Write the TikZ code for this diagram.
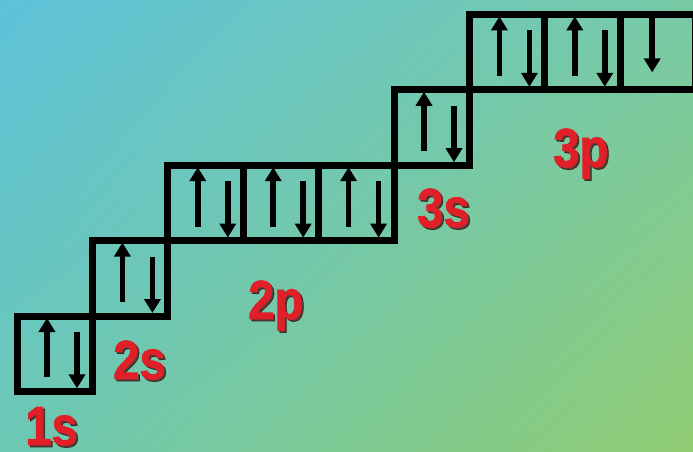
\documentclass[tikz,border=0pt]{standalone}
\usepackage{fontspec}
\setmainfont{Liberation Sans}
\newfontfamily\lblfont{Liberation Sans Bold}[FakeBold=1.5]
\usetikzlibrary{arrows.meta,shadings}
\definecolor{bgTL}{HTML}{5EC3DA}
\definecolor{bgTR}{HTML}{78CAA6}
\definecolor{bgBL}{HTML}{6CC8B4}
\definecolor{bgBR}{HTML}{90CC72}
\definecolor{lblred}{HTML}{E01F28}
\definecolor{lblshadow}{HTML}{3A0808}
\tikzset{
  orb/.style={draw=black, line width=7pt, minimum width=75.4pt, minimum height=75.4pt, inner sep=0pt, outer sep=0pt, anchor=north west},
  spin/.style={line width=5.5pt, -{Triangle[width=16pt,length=14pt]}},
  lbl/.style={font=\fontsize{55}{55}\lblfont, text=lblred, anchor=base west, inner sep=0pt, xscale=0.86},
  lblsh/.style={lbl, text=lblshadow, opacity=0.7},
}
\newcommand{\pairarrows}[1]{%
  \draw[spin] ([xshift=30pt,yshift=14pt]#1.south west) -- ([xshift=30pt,yshift=-2pt]#1.north west);
  \draw[spin] ([xshift=60pt,yshift=-16pt]#1.north west) -- ([xshift=60pt,yshift=3pt]#1.south west);
}
\newcommand{\orblabel}[4]{%
  \node[lblsh] (#1sh) at (#2+2,#3+2) {#4};
  \node[lbl] (#1) at (#2,#3) {#4};
}
\begin{document}
\begin{tikzpicture}[x=1pt,y=-1pt]
\useasboundingbox (0,0) rectangle (693,452);
\clip (0,0) rectangle (693,452);
\shade[upper left=bgTL, upper right=bgTR, lower left=bgBL, lower right=bgBR] (0pt,0pt) rectangle (693pt,-452pt);
% boxes
\node[orb] (s1) at (17,316) {};
\node[orb] (s2) at (92.4,240.6) {};
\node[orb] (p2a) at (167.8,165.2) {};
\node[orb] (p2b) at (243.2,165.2) {};
\node[orb] (p2c) at (318.6,165.2) {};
\node[orb] (s3) at (394,89.8) {};
\node[orb] (p3a) at (469.4,14.4) {};
\node[orb] (p3b) at (544.8,14.4) {};
\node[orb] (p3c) at (620.2,14.4) {};
% electrons
\pairarrows{s1}
\pairarrows{s2}
\pairarrows{p2a}
\pairarrows{p2b}
\pairarrows{p2c}
\pairarrows{s3}
\pairarrows{p3a}
\pairarrows{p3b}
\draw[spin] ([xshift=32pt]p3c.north west) -- ([xshift=32pt,yshift=-58pt]p3c.north west);
% labels
\orblabel{l1s}{25}{445}{1s}
\orblabel{l2s}{113}{379}{2s}
\orblabel{l2p}{248}{319}{2p}
\orblabel{l3s}{417}{227}{3s}
\orblabel{l3p}{553}{167}{3p}
\end{tikzpicture}
\end{document}
